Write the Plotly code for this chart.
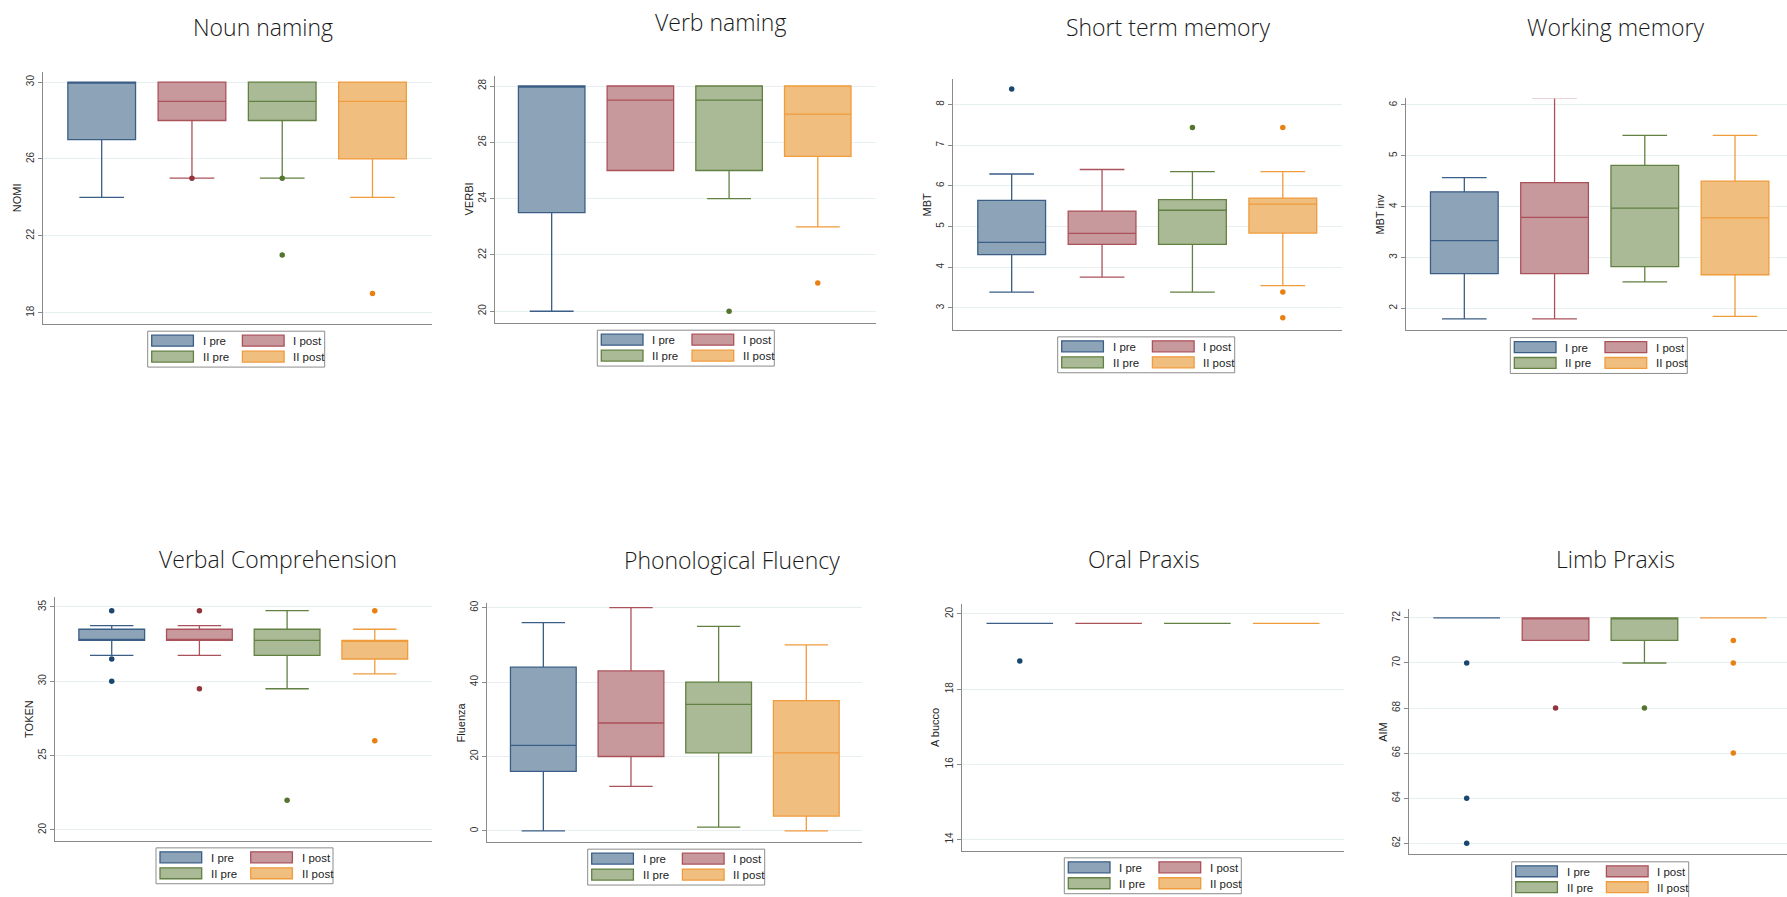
import plotly.graph_objects as go

W, H = 1787, 897

GROUPS = ["I pre", "I post", "II pre", "II post"]
LINE_COLORS = ["rgb(58,94,134)", "rgb(170,82,90)", "rgb(98,128,66)", "rgb(240,155,60)"]
FILL_COLORS = ["rgb(141,164,184)", "rgb(200,153,156)", "rgb(170,186,150)", "rgb(240,191,128)"]
DOT_COLORS = ["rgb(26,71,111)", "rgb(144,53,59)", "rgb(85,117,47)", "rgb(232,128,20)"]

# Box statistics per test, one entry per group (I pre, I post, II pre, II post)
noun = dict(
    lower=[24, 25, 25, 24], q1=[27, 28, 28, 26], median=[30, 29, 29, 29],
    q3=[30, 30, 30, 30], upper=[30, 30, 30, 30],
    outliers=[[], [25], [25, 21], [19]],
)
verb = dict(
    lower=[20, 25, 24, 23], q1=[23.5, 25, 25, 25.5], median=[28, 27.5, 27.5, 27],
    q3=[28, 28, 28, 28], upper=[28, 28, 28, 28],
    outliers=[[], [], [20], [21]],
)
stm = dict(
    lower=[3.39, 3.76, 3.39, 3.55], q1=[4.31, 4.56, 4.56, 4.84],
    median=[4.61, 4.83, 5.40, 5.55], q3=[5.64, 5.38, 5.66, 5.70],
    upper=[6.29, 6.40, 6.35, 6.35],
    outliers=[[8.38], [], [7.43], [7.43, 3.39, 2.76]],
)
wm = dict(
    lower=[1.79, 1.79, 2.52, 1.84], q1=[2.68, 2.68, 2.82, 2.66],
    median=[3.33, 3.79, 3.97, 3.78], q3=[4.29, 4.47, 4.81, 4.50],
    upper=[4.57, 6.14, 5.40, 5.40],
    outliers=[[], [], [], []],
)
token = dict(
    lower=[31.75, 31.75, 29.5, 30.5], q1=[32.75, 32.75, 31.75, 31.5],
    median=[32.75, 32.75, 32.75, 32.75], q3=[33.5, 33.5, 33.5, 32.75],
    upper=[33.75, 33.75, 34.75, 33.5],
    outliers=[[34.75, 31.5, 30], [34.75, 29.5], [22], [34.75, 26]],
)
fluency = dict(
    lower=[0, 12, 1, 0], q1=[16, 20, 21, 4], median=[23, 29, 34, 21],
    q3=[44, 43, 40, 35], upper=[56, 60, 55, 50],
    outliers=[[], [], [], []],
)
oral = dict(
    lower=[19.75] * 4, q1=[19.75] * 4, median=[19.75] * 4,
    q3=[19.75] * 4, upper=[19.75] * 4,
    outliers=[[18.75], [], [], []],
)
limb = dict(
    lower=[72, 71, 70, 72], q1=[72, 71, 71, 72], median=[72, 72, 72, 72],
    q3=[72, 72, 72, 72], upper=[72, 72, 72, 72],
    outliers=[[70, 64, 62], [68], [68], [71, 70, 66]],
)

TITLES = ["Noun naming", "Verb naming", "Short term memory", "Working memory",
          "Verbal Comprehension", "Phonological Fluency", "Oral Praxis", "Limb Praxis"]
Y_TITLES = ["NOMI", "VERBI", "MBT", "MBT inv", "TOKEN", "Fluenza", "A bucco", "AIM"]
Y_TICKS = [[18, 22, 26, 30], [20, 22, 24, 26, 28], [3, 4, 5, 6, 7, 8], [2, 3, 4, 5, 6],
           [20, 25, 30, 35], [0, 20, 40, 60], [14, 16, 18, 20], [62, 64, 66, 68, 70, 72]]
TESTS = [noun, verb, stm, wm, token, fluency, oral, limb]

# Panel layout: plot area in pixels (left, top, right, bottom), y range, x range,
# title centre, legend top-left corner
PANELS = [
    dict(area=(43.3, 69.3, 431.7, 321.7), yr=(17.43, 30.52), xr=(-0.647, 3.656),
         title=(262.5, 24), legend=(147.7, 329.3)),
    dict(area=(495, 73.3, 875.7, 321), yr=(19.586, 28.354), xr=(-0.639, 3.653),
         title=(720.8, 19), legend=(597.3, 328.3)),
    dict(area=(953.3, 76, 1342, 327.7), yr=(2.469, 8.629), xr=(-0.646, 3.655),
         title=(1168.3, 24), legend=(1057.7, 335)),
    dict(area=(1406.3, 95.7, 1787, 328.3), yr=(1.569, 6.129), xr=(-0.643, 3.576),
         title=(1615.8, 24), legend=(1510.3, 335.7)),
    dict(area=(55, 595.7, 432.3, 841), yr=(19.242, 35.691), xr=(-0.647, 3.656),
         title=(278, 557.5), legend=(156, 847.7)),
    dict(area=(486.7, 602, 861.7, 842.3), yr=(-3.107, 61.26), xr=(-0.646, 3.632),
         title=(731.7, 558.5), legend=(587.7, 849)),
    dict(area=(961.7, 602.7, 1344, 850.7), yr=(13.698, 20.273), xr=(-0.654, 3.651),
         title=(1144.2, 557.5), legend=(1064.3, 857.7)),
    dict(area=(1409, 608.3, 1787, 854.3), yr=(61.5, 72.385), xr=(-0.649, 3.604),
         title=(1615.2, 557.5), legend=(1511.7, 861.7)),
]


def px(x):
    return x / W


def py(y):
    return 1 - y / H


fig = go.Figure()
annotations = []
shapes = []
layout = {}

for i, (test, panel) in enumerate(zip(TESTS, PANELS)):
    n = i + 1
    xa = "x" if n == 1 else f"x{n}"
    ya = "y" if n == 1 else f"y{n}"
    left, top, right, bottom = panel["area"]

    for g in range(4):
        fig.add_trace(go.Box(
            x=[g], q1=[test["q1"][g]], median=[test["median"][g]], q3=[test["q3"][g]],
            lowerfence=[test["lower"][g]], upperfence=[test["upper"][g]],
            width=0.75, whiskerwidth=0.66,
            line=dict(color=LINE_COLORS[g], width=1.3),
            fillcolor=FILL_COLORS[g], boxpoints=False,
            name=GROUPS[g], showlegend=False, xaxis=xa, yaxis=ya,
        ))
        if test["outliers"][g]:
            fig.add_trace(go.Scatter(
                x=[g] * len(test["outliers"][g]), y=test["outliers"][g],
                mode="markers", marker=dict(color=DOT_COLORS[g], size=5.5),
                showlegend=False, xaxis=xa, yaxis=ya,
            ))

    layout[f"xaxis{n if n > 1 else ''}"] = dict(
        domain=[px(left), px(right)], range=list(panel["xr"]), anchor=ya,
        showticklabels=False, ticks="", showgrid=False, zeroline=False,
        showline=True, linecolor="#8a8a8a", linewidth=1.3,
    )
    layout[f"yaxis{n if n > 1 else ''}"] = dict(
        domain=[py(bottom), py(top)], range=list(panel["yr"]), anchor=xa,
        tickvals=Y_TICKS[i], tickangle=-90, ticks="outside", ticklen=4,
        tickcolor="#8a8a8a", tickfont=dict(family="Liberation Sans", size=10, color="#333"),
        showgrid=True, gridcolor="#e7eff1", gridwidth=1, zeroline=False,
        showline=True, linecolor="#8a8a8a", linewidth=1.3,
    )

    # Panel title
    tx, ty = panel["title"]
    annotations.append(dict(
        text=TITLES[i], x=px(tx), y=py(ty), xref="paper", yref="paper",
        xanchor="center", yanchor="middle", showarrow=False,
        font=dict(family="Open Sans", size=23, color="#1a1a1a", weight=300),
    ))
    # Y axis title
    annotations.append(dict(
        text=Y_TITLES[i], x=px(left - 26), y=py((top + bottom) / 2),
        xref="paper", yref="paper", xanchor="center", yanchor="middle",
        textangle=-90, showarrow=False,
        font=dict(family="Liberation Sans", size=11, color="#222"),
    ))

    # Two-column legend box
    lx, ly = panel["legend"]
    shapes.append(dict(type="rect", xref="paper", yref="paper",
                       x0=px(lx), x1=px(lx + 177), y0=py(ly), y1=py(ly + 36),
                       line=dict(color="#8c8c8c", width=1), fillcolor="white", layer="above"))
    for g in range(4):
        col, row = g % 2, g // 2
        sx = lx + 4 + col * 90.7
        sy = ly + 4 + row * 16
        shapes.append(dict(type="rect", xref="paper", yref="paper",
                           x0=px(sx), x1=px(sx + 41.7), y0=py(sy), y1=py(sy + 11),
                           line=dict(color=LINE_COLORS[g], width=1.3),
                           fillcolor=FILL_COLORS[g], layer="above"))
        annotations.append(dict(
            text=GROUPS[g], x=px(sx + 49), y=py(sy + 6), xref="paper", yref="paper",
            xanchor="left", yanchor="middle", showarrow=False,
            font=dict(family="Liberation Sans", size=11.5, color="#222"),
        ))

fig.update_layout(
    width=W, height=H, margin=dict(l=0, r=0, t=0, b=0),
    paper_bgcolor="white", plot_bgcolor="white", boxmode="overlay",
    annotations=annotations, shapes=shapes, showlegend=False,
    **layout,
)

fig.write_html("out.html")
